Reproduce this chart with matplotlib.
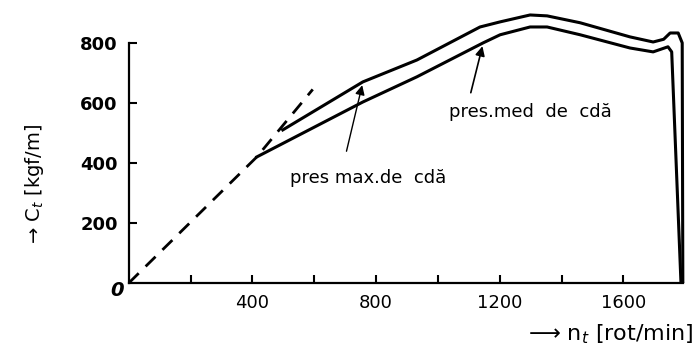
import matplotlib.pyplot as plt

plt.rcParams['font.family'] = 'DejaVu Sans'

# === data ===
upper_rpm = [498, 757, 932, 1136, 1201, 1298, 1353, 1460, 1621, 1696, 1730, 1751, 1777, 1790, 1792]
upper_c = [510, 670, 743, 853, 870, 893, 890, 867, 820, 803, 812, 833, 833, 800, 0]
lower_rpm = [414, 757, 932, 1146, 1201, 1298, 1353, 1460, 1621, 1696, 1744, 1756, 1786]
lower_c = [420, 603, 687, 800, 827, 853, 853, 827, 783, 770, 787, 770, 0]
dash_rpm = [0, 414, 595]
dash_c = [0, 420, 645]

x_ticks = [200, 400, 600, 800, 1000, 1200, 1400, 1600]
x_labels = ['', '400', '', '800', '', '1200', '', '1600']
y_ticks = [200, 400, 600, 800]
y_labels = ['200', '400', '600', '800']

fig = plt.figure(figsize=(7, 3.54), dpi=100)
ax = fig.add_axes([0.184, 0.2006, 0.795, 0.78])

ax.plot(dash_rpm, dash_c, color='black', lw=2.0, linestyle=(0, (5, 3.5)))
ax.plot(upper_rpm, upper_c, color='black', lw=2.2)
ax.plot(lower_rpm, lower_c, color='black', lw=2.2)

ax.set_xlim(0, 1800)
ax.set_ylim(0, 920)
ax.spines['top'].set_visible(False)
ax.spines['right'].set_visible(False)
ax.spines['left'].set_bounds(0, 800)
ax.spines['bottom'].set_bounds(0, 1792)
for s in ['left', 'bottom']:
    ax.spines[s].set_linewidth(1.6)

ax.set_xticks(x_ticks)
ax.set_xticklabels(x_labels, fontsize=13)
ax.set_yticks(y_ticks)
ax.set_yticklabels(y_labels, fontsize=13, fontweight='bold')
ax.tick_params(direction='in', length=6, width=1.5, pad=8)
ax.text(-15, -25, '0', fontsize=14, fontweight='bold', style='italic',
        ha='right', va='center')

# annotations
ax.text(1298, 570, 'pres.med  de  cdă', fontsize=13, ha='center', va='center')
ax.annotate('', xy=(1146, 798), xytext=(1104, 625),
            arrowprops=dict(arrowstyle='-|>', color='black', lw=1.2, mutation_scale=14))
ax.text(773, 350, 'pres max.de  cdă', fontsize=13, ha='center', va='center')
ax.annotate('', xy=(757, 668), xytext=(702, 430),
            arrowprops=dict(arrowstyle='-|>', color='black', lw=1.0, mutation_scale=14))

fig.text(0.05, 0.48, '→ C$_t$ [kgf/m]', rotation=90, fontsize=14,
         ha='center', va='center')
fig.text(0.99, 0.055, '⟶ n$_t$ [rot/min]', fontsize=16, ha='right', va='center')

plt.savefig('out.png', dpi=100)
